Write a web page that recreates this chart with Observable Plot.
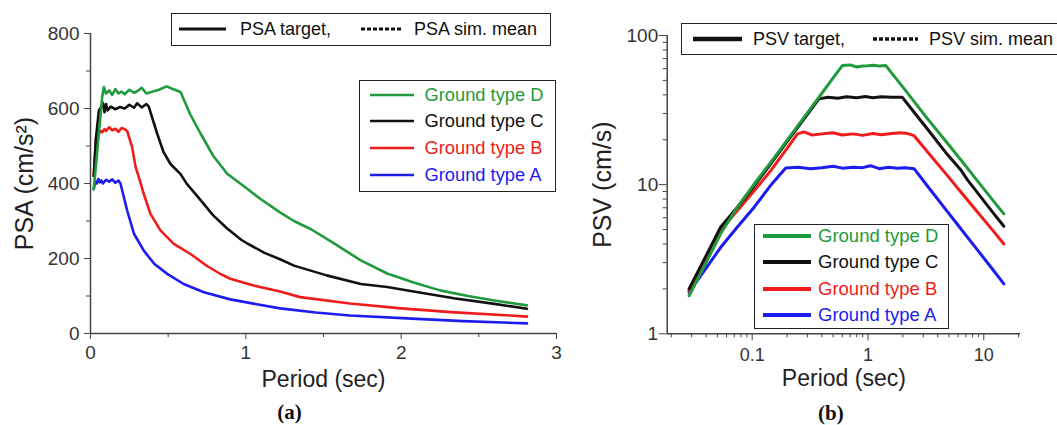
<!DOCTYPE html>
<html><head><meta charset="utf-8">
<script src="https://cdn.jsdelivr.net/npm/d3@7"></script>
<script src="https://cdn.jsdelivr.net/npm/@observablehq/plot@0.6"></script>
<style>
body{margin:0;background:#fff;font-family:"Liberation Sans",Arial,sans-serif;}
#wrap{position:relative;width:1057px;height:425px;overflow:hidden;background:#fff;}
.panel{position:absolute;top:0;}
</style></head><body><div id="wrap"></div>
<script>
// ---------- data ----------
const groundTypes = ["Ground type D", "Ground type C", "Ground type B", "Ground type A"];
const groundColors = ["#1f9a3c", "#111111", "#f01c1c", "#1c1cf0"];

// (a) PSA (cm/s^2) vs period (sec)
const psaPeriodD = [0.021,0.04,0.06,0.075,0.086,0.1,0.12,0.14,0.16,0.18,0.2,0.22,0.25,0.28,0.3,0.33,0.36,0.4,0.44,0.49,0.53,0.58,0.64,0.71,0.79,0.88,0.99,1.09,1.22,1.31,1.42,1.55,1.74,1.91,2.08,2.25,2.43,2.6,2.81];
const psaD = [385,470,560,630,657,640,648,636,652,640,645,638,650,642,646,655,640,645,650,659,652,644,586,532,474,426,392,360,323,300,278,245,195,160,136,115,100,88,75];
const psaPeriodC = [0.021,0.035,0.054,0.07,0.08,0.09,0.1,0.11,0.13,0.16,0.19,0.22,0.25,0.28,0.3,0.33,0.36,0.375,0.43,0.47,0.515,0.58,0.62,0.69,0.79,0.88,0.97,1.01,1.12,1.22,1.31,1.52,1.74,1.91,2.08,2.34,2.6,2.81];
const psaC = [420,520,595,605,615,590,612,595,605,598,604,600,610,602,614,603,612,605,532,484,452,425,399,365,315,280,250,240,215,198,181,155,132,124,112,94,79,66];
const psaPeriodB = [0.021,0.035,0.065,0.075,0.09,0.1,0.12,0.14,0.16,0.18,0.2,0.22,0.236,0.268,0.29,0.32,0.343,0.386,0.45,0.536,0.644,0.75,0.84,0.9,1.05,1.22,1.35,1.67,2.0,2.32,2.7,2.81];
const psaB = [420,520,540,537,545,540,550,542,546,538,548,545,540,497,445,405,372,319,275,239,212,180,158,146,128,112,97,80,67,57,48,45];
const psaPeriodA = [0.021,0.03,0.04,0.05,0.06,0.07,0.08,0.1,0.12,0.14,0.16,0.18,0.193,0.236,0.28,0.343,0.41,0.494,0.6,0.73,0.9,1.07,1.22,1.45,1.67,2.1,2.4,2.81];
const psaA = [385,405,400,412,403,408,400,410,405,411,402,408,400,328,266,221,186,159,132,110,91,78,67,56,48,39,33,27];

// (b) PSV (cm/s) vs period (sec)
const psvPeriodD = [0.0285,0.04,0.0535,0.0745,0.104,0.1445,0.2,0.25,0.32,0.4,0.5,0.6,0.7,0.8,0.9,1.0,1.1,1.25,1.42,2.05,3.26,5.18,6.74,8.81,12,14.9];
const psvD = [1.8,3.0,4.7,7.06,10.1,14.1,19.8,25.1,32.5,41,51.9,62.9,63.5,61.5,62.5,62.8,63.2,62.5,63,44,27.7,17.8,13.8,10.6,7.85,6.37];
const psvPeriodC = [0.0285,0.04,0.0535,0.0745,0.104,0.1445,0.2,0.25,0.3,0.377,0.45,0.55,0.65,0.8,0.95,1.1,1.3,1.6,1.98,2.5,3.26,4.85,6.31,7.2,8.81,12,14.9];
const psvC = [2.0,3.34,5.2,7.06,9.8,13.8,19.4,24.5,29.6,37.6,38.5,38,38.8,38.2,39,38.3,38.9,38.5,38.5,30.6,23.6,15.9,12.6,10.8,8.85,6.5,5.26];
const psvPeriodB = [0.0285,0.04,0.0535,0.0745,0.104,0.1445,0.2,0.246,0.28,0.33,0.4,0.5,0.6,0.75,0.9,1.1,1.3,1.6,1.9,2.2,2.5,3.26,4.85,6.31,8.81,12,14.9];
const psvB = [1.95,3.2,4.95,6.7,9.1,12.4,17.5,21.9,22.6,21.5,21.9,22.3,21.5,21.9,21.4,22,21.6,22,22.3,22,21.3,16.6,11.5,8.97,6.56,4.92,4.0];
const psvPeriodA = [0.0285,0.04,0.0535,0.0745,0.104,0.1445,0.195,0.25,0.32,0.4,0.5,0.6,0.75,0.9,1.05,1.25,1.5,1.8,2.1,2.5,3.26,4.85,6.31,8.81,12,14.9];
const psvA = [1.9,2.76,3.8,5.2,7.06,9.9,12.95,13.1,12.8,13,13.3,12.9,13.1,13,13.4,12.8,13.1,12.9,13,12.8,9.8,6.6,5.08,3.65,2.69,2.16];

// ticks
const psaXTicks = [0,1,2,3], psaXMinor = [0.5,1.5,2.5];
const psaYTicks = [0,200,400,600,800], psaYMinor = [100,300,500,700];
const psvXTicks = [0.1,1,10];
const psvXMinor = [0.02,0.03,0.04,0.05,0.06,0.07,0.08,0.09,0.2,0.3,0.4,0.5,0.6,0.7,0.8,0.9,2,3,4,5,6,7,8,9,20];
const psvYTicks = [1,10,100];
const psvYMinor = [2,3,4,5,6,7,8,9,20,30,40,50,60,70,80,90];

// ---------- tables ----------
function table(periods, values) {
  // draw order: A, B, C, D
  const order = [3,2,1,0];
  return order.flatMap(i => periods[i].map((t, j) => ({type: groundTypes[i], period: t, value: values[i][j]})));
}
const psaData = table([psaPeriodD, psaPeriodC, psaPeriodB, psaPeriodA], [psaD, psaC, psaB, psaA]);
const psvData = table([psvPeriodD, psvPeriodC, psvPeriodB, psvPeriodA], [psvD, psvC, psvB, psvA]);

const FONT = "'Liberation Sans', Arial, sans-serif";
const AX = "#444";
const fmt = d => String(d);

const plotA = Plot.plot({
  width: 560, height: 425,
  marginLeft: 90, marginRight: 4, marginTop: 33, marginBottom: 92,
  style: {fontFamily: FONT, background: "transparent", overflow: "visible"},
  x: {domain: [0, 3]},
  y: {domain: [0, 800]},
  color: {domain: groundTypes, range: groundColors},
  marks: [
    Plot.line(psaData, {x: "period", y: "value", z: "type", stroke: "type", strokeWidth: 2.6}),
    Plot.ruleX([0], {stroke: AX, strokeWidth: 1.5}),
    Plot.ruleY([0], {stroke: AX, strokeWidth: 1.5}),
    Plot.axisX(psaXTicks, {tickSize: 6, tickPadding: 6, fontSize: 19, stroke: AX, fill: "#333", label: null, tickFormat: fmt}),
    Plot.axisX(psaXMinor, {tickSize: 4, stroke: AX, fill: "none", label: null}),
    Plot.axisY(psaYTicks, {tickSize: 6, tickPadding: 5, fontSize: 19, stroke: AX, fill: "#333", label: null, tickFormat: fmt}),
    Plot.axisY(psaYMinor, {tickSize: 4, stroke: AX, fill: "none", label: null}),
    Plot.text(["PSA (cm/s²)"], {text: d => d, frameAnchor: "left", dx: -66, rotate: -90, textAnchor: "middle", lineAnchor: "middle", fontSize: 25, fill: "#222"}),
    Plot.text(["Period (sec)"], {text: d => d, frameAnchor: "bottom", dy: 46, textAnchor: "middle", lineAnchor: "middle", fontSize: 23, fill: "#222"}),
    Plot.text(["(a)"], {text: d => d, frameAnchor: "bottom", dx: -34, dy: 79, textAnchor: "middle", lineAnchor: "middle", fontSize: 21, fontWeight: "bold", fontFamily: "'Liberation Serif', 'Times New Roman', serif", fill: "#111"})
  ]
});

const plotB = Plot.plot({
  width: 497, height: 425,
  marginLeft: 106.7, marginRight: 37, marginTop: 35, marginBottom: 91.7,
  style: {fontFamily: FONT, background: "transparent", overflow: "visible"},
  x: {type: "log", domain: [0.01845, 20.75]},
  y: {type: "log", domain: [1, 100]},
  color: {domain: groundTypes, range: groundColors},
  marks: [
    Plot.line(psvData, {x: "period", y: "value", z: "type", stroke: "type", strokeWidth: 3}),
    Plot.ruleX([0.01845], {stroke: AX, strokeWidth: 1.5}),
    Plot.ruleY([1], {stroke: AX, strokeWidth: 1.5}),
    Plot.axisX(psvXTicks, {tickSize: 7, tickPadding: 7, fontSize: 18, stroke: AX, fill: "#333", label: null, tickFormat: fmt}),
    Plot.axisX(psvXMinor, {tickSize: 4, stroke: AX, fill: "none", label: null}),
    Plot.axisY(psvYTicks, {tickSize: 8, tickPadding: 1, fontSize: 19, stroke: AX, fill: "#333", label: null, tickFormat: fmt}),
    Plot.axisY(psvYMinor, {tickSize: 4, stroke: AX, fill: "none", label: null}),
    Plot.text(["PSV (cm/s)"], {text: d => d, frameAnchor: "left", dx: -64, rotate: -90, textAnchor: "middle", lineAnchor: "middle", fontSize: 25, fill: "#222"}),
    Plot.text(["Period (sec)"], {text: d => d, frameAnchor: "bottom", dy: 45, textAnchor: "middle", lineAnchor: "middle", fontSize: 23, fill: "#222"}),
    Plot.text(["(b)"], {text: d => d, frameAnchor: "bottom", dx: -13, dy: 79, textAnchor: "middle", lineAnchor: "middle", fontSize: 21, fontWeight: "bold", fontFamily: "'Liberation Serif', 'Times New Roman', serif", fill: "#111"})
  ]
});

const wrap = document.getElementById("wrap");
function place(node, left) {
  const d = document.createElement("div");
  d.className = "panel";
  d.style.left = left + "px";
  d.appendChild(node);
  wrap.appendChild(d);
}
place(plotA, 0);
place(plotB, 560);

// ---------- legends ----------
const NS = "http://www.w3.org/2000/svg";
function box(x, y, w, h, bw) {
  const d = document.createElement("div");
  d.style.cssText = `position:absolute;left:${x}px;top:${y}px;width:${w}px;height:${h}px;border:${bw}px solid #222;background:#fff;box-sizing:border-box`;
  wrap.appendChild(d);
}
function swatch(x1, x2, y, color, width, dash) {
  const s = document.createElementNS(NS, "svg");
  const w = x2 - x1;
  s.setAttribute("width", w); s.setAttribute("height", 12);
  s.style.cssText = `position:absolute;left:${x1}px;top:${y - 6}px;overflow:visible`;
  const l = document.createElementNS(NS, "line");
  l.setAttribute("x1", 0); l.setAttribute("x2", w); l.setAttribute("y1", 6); l.setAttribute("y2", 6);
  l.setAttribute("stroke", color); l.setAttribute("stroke-width", width);
  if (dash) l.setAttribute("stroke-dasharray", dash);
  s.appendChild(l);
  wrap.appendChild(s);
}
function label(x, y, text, color, size) {
  const d = document.createElement("div");
  d.textContent = text;
  d.style.cssText = `position:absolute;left:${x}px;top:${y}px;transform:translateY(-50%);line-height:1;font-size:${size}px;color:${color};white-space:nowrap;font-family:${FONT}`;
  wrap.appendChild(d);
}

// (a) top legend
box(171, 13, 380, 33, 1.5);
swatch(179, 226, 29, "#111", 2.8);
label(240, 29, "PSA target,", "#111", 18);
swatch(361, 401, 29, "#111", 2.8, "4,2");
label(414, 29, "PSA sim. mean", "#111", 18);
// (a) ground type legend
box(359, 80, 197, 112, 1.5);
const rowsA = [95, 121, 147.5, 175];
groundTypes.forEach((g, i) => {
  swatch(370, 414, rowsA[i], groundColors[i], 2.6);
  label(424.5, rowsA[i], g, groundColors[i], 18.3);
});
// (b) top legend
box(681, 23, 420, 32, 1.5);
swatch(693, 742, 39, "#111", 4.5);
label(753, 39, "PSV target,", "#111", 18);
swatch(873, 918, 39, "#111", 3.5, "4,2");
label(929, 39, "PSV sim. mean", "#111", 18);
// (b) ground type legend
box(754, 224, 195, 105, 1.5);
const rowsB = [236, 262, 288.5, 315];
groundTypes.forEach((g, i) => {
  swatch(763, 811, rowsB[i], groundColors[i], 4.2);
  label(818, rowsB[i], g, groundColors[i], 18.5);
});
</script></body></html>
